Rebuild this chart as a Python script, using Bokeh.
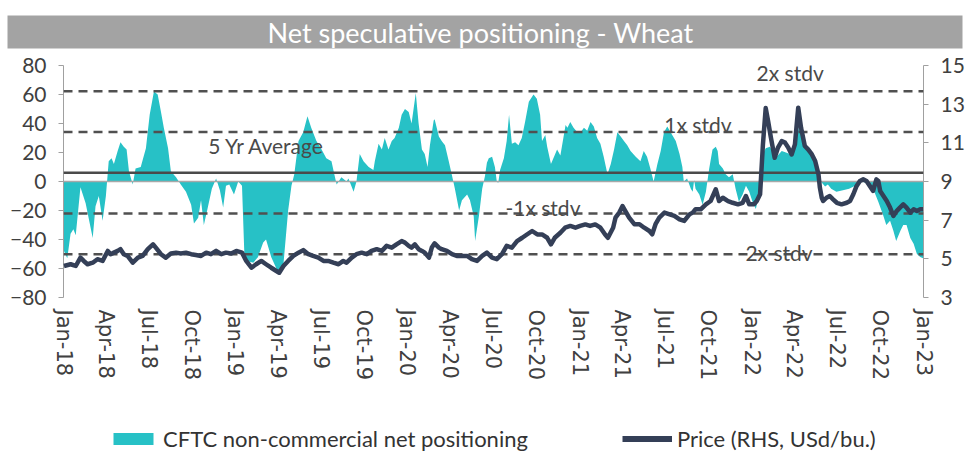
import pandas as pd
from bokeh.plotting import figure
from bokeh.models import Range1d, LinearAxis, FixedTicker, Span, Label, Legend, LegendItem, DatetimeTickFormatter
from bokeh.layouts import column
from bokeh.embed import file_html
from bokeh.resources import INLINE
from bokeh.core.properties import value

title_text = "Net speculative positioning  -  Wheat"
legend_labels = ["CFTC non-commercial net positioning", "Price (RHS, USd/bu.)"]

net_dates = [
    "2018-01-02", "2018-01-09", "2018-01-16", "2018-01-22", "2018-01-27", "2018-02-06", "2018-02-17", "2018-03-04",
    "2018-03-10", "2018-03-17", "2018-03-25", "2018-04-01", "2018-04-07", "2018-04-13", "2018-04-18", "2018-04-26",
    "2018-05-02", "2018-05-09", "2018-05-15", "2018-05-20", "2018-05-28", "2018-06-03", "2018-06-14", "2018-06-25",
    "2018-07-03", "2018-07-12", "2018-07-20", "2018-07-27", "2018-08-02", "2018-08-11", "2018-08-17", "2018-08-28",
    "2018-09-07", "2018-09-18", "2018-09-29", "2018-10-05", "2018-10-14", "2018-10-20", "2018-10-26", "2018-11-02",
    "2018-11-12", "2018-11-21", "2018-11-29", "2018-12-06", "2018-12-12", "2018-12-19", "2018-12-29",
    "2019-01-07", "2019-01-15", "2019-01-20", "2019-01-28", "2019-02-08", "2019-02-18", "2019-03-01", "2019-03-07",
    "2019-03-18", "2019-03-29", "2019-04-04", "2019-04-13", "2019-04-23", "2019-04-30", "2019-05-06", "2019-05-15",
    "2019-05-25", "2019-06-03", "2019-06-11", "2019-06-22", "2019-07-03", "2019-07-13", "2019-07-24", "2019-07-30",
    "2019-08-04", "2019-08-14", "2019-08-25", "2019-08-29", "2019-09-09", "2019-09-15", "2019-09-22", "2019-09-30",
    "2019-10-11", "2019-10-21", "2019-10-24", "2019-11-01", "2019-11-08", "2019-11-14", "2019-11-22", "2019-11-29",
    "2019-12-05", "2019-12-14", "2019-12-20", "2019-12-27",
    "2020-01-04", "2020-01-10", "2020-01-19", "2020-01-25", "2020-02-01", "2020-02-07", "2020-02-13", "2020-02-18",
    "2020-02-26", "2020-02-28", "2020-03-08", "2020-03-14", "2020-03-21", "2020-03-29", "2020-04-05", "2020-04-11",
    "2020-04-20", "2020-04-26", "2020-05-07", "2020-05-13", "2020-05-21", "2020-05-24", "2020-06-01", "2020-06-08",
    "2020-06-14", "2020-06-18", "2020-06-22", "2020-06-29", "2020-07-05", "2020-07-09", "2020-07-12", "2020-07-16",
    "2020-07-24", "2020-07-30", "2020-08-04", "2020-08-10", "2020-08-17", "2020-08-24", "2020-08-31", "2020-09-07",
    "2020-09-15", "2020-09-25", "2020-10-02", "2020-10-09", "2020-10-13", "2020-10-20", "2020-10-24", "2020-11-01",
    "2020-11-10", "2020-11-14", "2020-11-21", "2020-12-02", "2020-12-06", "2020-12-12", "2020-12-19", "2020-12-27",
    "2021-01-03", "2021-01-10", "2021-01-17", "2021-01-24", "2021-01-31", "2021-02-07", "2021-02-14", "2021-02-21",
    "2021-03-01", "2021-03-08", "2021-03-15", "2021-03-22", "2021-03-29", "2021-04-05", "2021-04-12", "2021-04-19",
    "2021-04-30", "2021-05-10", "2021-05-17", "2021-05-24", "2021-05-31", "2021-06-07", "2021-06-15", "2021-06-22",
    "2021-06-29", "2021-07-06", "2021-07-13", "2021-07-24", "2021-08-01", "2021-08-07", "2021-08-10", "2021-08-17",
    "2021-08-25", "2021-08-29", "2021-09-01", "2021-09-04", "2021-09-12", "2021-09-19", "2021-09-26", "2021-10-03",
    "2021-10-10", "2021-10-17", "2021-10-21", "2021-10-24", "2021-11-01", "2021-11-07", "2021-11-14", "2021-11-22",
    "2021-11-28", "2021-12-05", "2021-12-13", "2021-12-20", "2021-12-27",
    "2022-01-03", "2022-01-10", "2022-01-17", "2022-01-25", "2022-01-31", "2022-02-09", "2022-02-17", "2022-02-23",
    "2022-03-06", "2022-03-15", "2022-03-23", "2022-04-03", "2022-04-11", "2022-04-20", "2022-04-26", "2022-05-07",
    "2022-05-15", "2022-05-22", "2022-05-28", "2022-06-06", "2022-06-12", "2022-06-19", "2022-06-30", "2022-07-14",
    "2022-07-27", "2022-08-09", "2022-08-23", "2022-09-01", "2022-09-16", "2022-09-27", "2022-10-07", "2022-10-14",
    "2022-10-22", "2022-10-29", "2022-11-04", "2022-11-13", "2022-11-19", "2022-11-26", "2022-12-04", "2022-12-11",
    "2022-12-18", "2022-12-25", "2022-12-31",
]
net_values = [
    -48, -53, -36, -33, -37, -4, -15, -39,
    -17, -10, -27, -10, 14, 16, 12, 21,
    27, 24, 22, 7, -2, 9, 10, 23,
    46, 62, 60, 48, 37, 23, 7, 3,
    -2, -7, -16, -29, -25, -13, -30, -20,
    -5, 2, -6, -18, -3, -2, -9,
    0, -3, -50, -55, -56, -52, -42, -40,
    -52, -60, -64, -57, -20, -3, 5, 28,
    34, 45, 37, 28, 22, 16, 14, 5,
    -2, 3, 0, 2, -7, 0, 19, 14,
    10, 8, 14, 26, 22, 30, 22, 28,
    30, 37, 46, 50,
    48, 40, 61, 40, 22, 19, 10, 25,
    42, 43, 31, 28, 25, 14, 4, -5,
    -20, -13, -9, -13, -24, -41, -24, -5,
    4, 13, 16, 17, 10, 0, -1, 8,
    16, 28, 46, 26, 27, 25, 30, 41,
    55, 60, 57, 46, 28, 32, 24, 12,
    19, 22, 18, 39, 37, 41, 37, 34,
    34, 37, 35, 41, 38, 30, 26, 17,
    5, 12, 22, 34, 31, 28, 25, 21,
    17, 14, 21, 17, 9, 0, 12, 21,
    34, 38, 34, 28, 19, 10, 0, 2,
    -5, -7, 1, -5, -9, -16, -7, 9,
    22, 24, 21, 12, 9, 5, 3, 5,
    -5, -14, -9, -3, -7,
    -14, -19, -9, 19, 23, 24, 19, 17,
    21, 20, 19, 23, 37, 30, 25, 20,
    13, 4, 0, -3.5, -2, -5, -7, -6,
    -5, -3, 0, -1, -5, -14, -23, -30,
    -27, -34, -41, -34, -30, -30, -39, -43,
    -50, -52, -53,
]

price_dates = [
    "2018-01-02", "2018-01-16", "2018-01-27", "2018-02-06", "2018-02-13", "2018-02-21", "2018-03-04", "2018-03-14",
    "2018-03-25", "2018-04-05", "2018-04-11", "2018-04-18", "2018-04-26", "2018-05-02", "2018-05-09", "2018-05-17",
    "2018-05-28", "2018-06-08", "2018-06-18", "2018-06-29", "2018-07-10", "2018-07-16", "2018-07-27", "2018-08-06",
    "2018-08-17", "2018-08-28", "2018-09-07", "2018-09-18", "2018-09-29", "2018-10-09", "2018-10-20", "2018-10-31",
    "2018-11-10", "2018-11-21", "2018-12-02", "2018-12-12", "2018-12-23",
    "2019-01-03", "2019-01-15", "2019-01-24", "2019-02-04", "2019-02-14", "2019-02-25", "2019-03-07", "2019-03-18",
    "2019-03-29", "2019-04-04", "2019-04-13", "2019-04-23", "2019-05-04", "2019-05-15", "2019-05-25", "2019-06-05",
    "2019-06-15", "2019-06-26", "2019-07-07", "2019-07-17", "2019-07-28", "2019-08-08", "2019-08-18", "2019-08-25",
    "2019-09-05", "2019-09-15", "2019-09-26", "2019-10-07", "2019-10-17", "2019-10-28", "2019-11-08", "2019-11-18",
    "2019-11-29", "2019-12-09", "2019-12-20", "2019-12-27",
    "2020-01-04", "2020-01-10", "2020-01-17", "2020-01-25", "2020-02-01", "2020-02-07", "2020-02-16", "2020-02-22",
    "2020-02-28", "2020-03-08", "2020-03-14", "2020-03-25", "2020-04-05", "2020-04-15", "2020-04-26", "2020-05-07",
    "2020-05-17", "2020-05-28", "2020-06-08", "2020-06-18", "2020-06-29", "2020-07-09", "2020-07-20", "2020-07-30",
    "2020-08-10", "2020-08-21", "2020-09-01", "2020-09-11", "2020-09-22", "2020-10-03", "2020-10-13", "2020-10-24",
    "2020-11-01", "2020-11-09", "2020-11-21", "2020-12-01", "2020-12-12", "2020-12-23",
    "2021-01-02", "2021-01-13", "2021-01-23", "2021-02-03", "2021-02-14", "2021-02-24", "2021-03-02", "2021-03-13",
    "2021-03-18", "2021-03-26", "2021-04-02", "2021-04-08", "2021-04-16", "2021-04-27", "2021-05-08", "2021-05-18",
    "2021-05-29", "2021-06-04", "2021-06-11", "2021-06-19", "2021-06-30", "2021-07-11", "2021-07-21", "2021-08-01",
    "2021-08-11", "2021-08-22", "2021-08-29", "2021-09-04", "2021-09-15", "2021-09-26", "2021-10-06", "2021-10-17",
    "2021-10-24", "2021-11-01", "2021-11-12", "2021-11-22", "2021-12-03", "2021-12-13", "2021-12-20", "2021-12-27",
    "2022-01-06", "2022-01-12", "2022-01-19", "2022-01-25", "2022-01-31", "2022-02-05", "2022-02-11", "2022-02-19",
    "2022-02-26", "2022-03-06", "2022-03-13", "2022-03-20", "2022-03-27", "2022-04-03", "2022-04-10", "2022-04-16",
    "2022-04-24", "2022-05-01", "2022-05-09", "2022-05-16", "2022-05-23", "2022-05-26", "2022-05-30", "2022-06-02",
    "2022-06-09", "2022-06-16", "2022-06-23", "2022-07-01", "2022-07-11", "2022-07-22", "2022-07-29", "2022-08-05",
    "2022-08-12", "2022-08-19", "2022-08-26", "2022-09-02", "2022-09-09", "2022-09-16", "2022-09-23", "2022-09-27",
    "2022-10-01", "2022-10-08", "2022-10-15", "2022-10-22", "2022-10-29", "2022-11-05", "2022-11-12", "2022-11-19",
    "2022-11-26", "2022-12-04", "2022-12-11", "2022-12-18", "2022-12-25", "2022-12-31",
]
price_values = [
    4.63, 4.72, 4.63, 5.06, 4.89, 4.72, 4.80, 4.98,
    4.89, 5.41, 5.24, 5.32, 5.41, 5.50, 5.24, 5.15,
    4.80, 5.06, 5.15, 5.50, 5.75, 5.58, 5.24, 5.06,
    5.28, 5.32, 5.28, 5.32, 5.24, 5.20, 5.15, 5.32,
    5.24, 5.41, 5.24, 5.32, 5.28,
    5.41, 5.32, 4.89, 4.54, 4.72, 4.89, 4.72, 4.54,
    4.37, 4.28, 4.63, 4.89, 5.15, 5.32, 5.45, 5.24,
    5.15, 5.06, 4.89, 4.89, 4.80, 4.72, 4.89, 4.80,
    5.06, 5.24, 5.32, 5.24, 5.41, 5.50, 5.41, 5.67,
    5.58, 5.75, 5.92, 5.84,
    5.67, 5.58, 5.75, 5.50, 5.41, 5.32, 5.06, 5.58,
    5.80, 5.58, 5.50, 5.41, 5.24, 5.15, 5.15, 5.15,
    4.98, 4.89, 5.15, 5.32, 5.06, 4.98, 5.24, 5.67,
    5.58, 5.92, 6.09, 6.26, 6.44, 6.26, 6.26, 6.09,
    5.75, 6.09, 6.35, 6.61, 6.70, 6.61,
    6.70, 6.78, 6.70, 6.78, 6.61, 6.26, 6.09, 6.61,
    7.13, 7.39, 7.73, 7.47, 7.13, 6.79, 6.79, 6.61,
    6.44, 6.27, 6.79, 7.13, 7.39, 7.30, 7.22, 7.04,
    6.96, 7.30, 7.39, 7.56, 7.56, 7.82, 7.99, 8.60,
    7.99, 8.16, 7.99, 7.90, 7.82, 7.90, 8.25, 7.82,
    7.82, 7.99, 8.34, 10.90, 12.80, 12.13, 11.27, 10.23,
    10.75, 11.09, 11.01, 10.75, 10.40, 10.92, 12.82, 11.78,
    10.84, 10.66, 10.40, 10.06, 9.37, 8.68, 8.16, 7.99,
    8.16, 8.25, 8.08, 7.90, 7.82, 7.90, 7.99, 8.34,
    8.77, 9.03, 9.11, 9.03, 8.77, 8.51, 9.11, 9.03,
    8.51, 8.25, 7.99, 7.65, 7.22, 7.47, 7.65, 7.82,
    7.65, 7.39, 7.56, 7.47, 7.56, 7.56,
]

avg_5yr = 6.0
std_5yr = 28.1

tick_dates = [
    "2018-01-01", "2018-04-01", "2018-07-01", "2018-10-01", "2019-01-01", "2019-04-01", "2019-07-01",
    "2019-10-01", "2020-01-01", "2020-04-01", "2020-07-01", "2020-10-01", "2021-01-01", "2021-04-01",
    "2021-07-01", "2021-10-01", "2022-01-01", "2022-04-01", "2022-07-01", "2022-10-01", "2023-01-01",
]
tick_labels = [
    "Jan-18", "Apr-18", "Jul-18", "Oct-18", "Jan-19", "Apr-19", "Jul-19", "Oct-19", "Jan-20", "Apr-20",
    "Jul-20", "Oct-20", "Jan-21", "Apr-21", "Jul-21", "Oct-21", "Jan-22", "Apr-22", "Jul-22", "Oct-22", "Jan-23",
]
left_ticks = [-80, -60, -40, -20, 0, 20, 40, 60, 80]
right_ticks = [3, 5, 7, 9, 11, 13, 15]

TEAL = "#27C1C6"
NAVY = "#343F57"
TXT = "#404040"
FONT = "Lato"

net_x = pd.to_datetime(net_dates)
price_x = pd.to_datetime(price_dates)
tick_x = pd.to_datetime(tick_dates)
tick_ms = [float(t.value // 10**6) for t in tick_x]

# ---------- title bar ----------
t = figure(width=968, height=52, x_range=Range1d(0, 968), y_range=Range1d(0, 52),
           x_axis_location=None, y_axis_location=None, output_backend="svg",
           toolbar_location=None, min_border=0)
t.frame_align = False
t.grid.visible = False
t.outline_line_color = None
t.quad(left=7, right=962, bottom=4, top=37, fill_color="#A3A3A3", line_color=None)
t.text(x=[487], y=[20.5], text=[title_text], text_align="center", text_baseline="middle",
       text_color="white", text_font=value(FONT), text_font_size="27px")

# ---------- main chart ----------
p = figure(width=968, height=363, x_axis_type="datetime",
           x_range=Range1d(tick_x[0], tick_x[-1]), y_range=Range1d(-80, 80),
           output_backend="svg", toolbar_location=None,
           min_border_left=63, min_border_right=45, min_border_top=13, min_border_bottom=118)
p.grid.visible = False
p.outline_line_color = None
p.extra_y_ranges = {"price": Range1d(right_ticks[0], right_ticks[-1])}

area_r = p.varea(x=net_x, y1=0, y2=net_values, fill_color=TEAL)

p.add_layout(Span(location=0, dimension="width", line_color="#A8A8A8", line_width=1.5))
p.add_layout(Span(location=avg_5yr, dimension="width", line_color="#4A4A4A", line_width=2.5))
for k in (-2, -1, 1, 2):
    p.add_layout(Span(location=avg_5yr + k * std_5yr, dimension="width", line_color="#505050",
                      line_width=2.5, line_dash="9 6"))

price_r = p.line(x=price_x, y=price_values, y_range_name="price", line_color=NAVY,
                 line_width=4.5, line_join="round", level="overlay")

ann = [
    ("2x stdv", "2022-03-24", avg_5yr + 2 * std_5yr + 12.8),
    ("1x stdv", "2021-09-09", avg_5yr + 1 * std_5yr + 5.5),
    ("5 Yr Average", "2019-03-08", avg_5yr + 19),
    ("-1x stdv", "2020-10-15", avg_5yr - 1 * std_5yr + 4),
    ("-2x stdv", "2022-02-20", avg_5yr - 2 * std_5yr + 1),
]
for txt, d, yv in ann:
    p.add_layout(Label(x=pd.Timestamp(d), y=yv, text=txt, text_align="center", text_baseline="middle",
                       text_color="#4A4A4A", text_font=FONT, text_font_size="21px", level="overlay"))

# axes
xa = p.xaxis[0]
xa.ticker = FixedTicker(ticks=tick_ms)
xa.formatter = DatetimeTickFormatter(days="%b-%y", months="%b-%y", years="%b-%y")
xa.major_label_overrides = {ms: lab for ms, lab in zip(tick_ms, tick_labels)}
xa.major_label_orientation = "vertical"
xa.axis_line_color = None
xa.major_tick_line_color = None
xa.minor_tick_line_color = None
xa.major_label_text_font = "DejaVu Sans"
xa.major_label_text_font_size = "21px"
xa.major_label_text_color = "#404040"
xa.major_label_standoff = 6

ya = p.yaxis[0]
ya.ticker = FixedTicker(ticks=left_ticks)
ya.axis_line_color = "#A0A0A0"
ya.major_tick_line_color = "#A0A0A0"
ya.major_tick_out = 5
ya.major_tick_in = 0
ya.minor_tick_line_color = None
ya.major_label_text_font = FONT
ya.major_label_text_font_size = "21px"
ya.major_label_text_color = TXT
ya.major_label_standoff = 12

ra = LinearAxis(y_range_name="price", ticker=FixedTicker(ticks=right_ticks))
ra.axis_line_color = "#A0A0A0"
ra.major_tick_line_color = "#A0A0A0"
ra.major_tick_out = 5
ra.major_tick_in = 0
ra.minor_tick_line_color = None
ra.major_label_text_font = FONT
ra.major_label_text_font_size = "21px"
ra.major_label_text_color = TXT
ra.major_label_standoff = 12
p.add_layout(ra, "right")

# ---------- legend strip (proxy glyphs kept outside the visible range) ----------
lg = figure(width=968, height=48, x_range=Range1d(0, 968), y_range=Range1d(0, 48),
            x_axis_location=None, y_axis_location=None, output_backend="svg",
            toolbar_location=None, min_border=0)
lg.frame_align = False
lg.grid.visible = False
lg.outline_line_color = None
lg_area = lg.varea(x=[-60, -50], y1=[-60, -60], y2=[-50, -50], fill_color=TEAL)
lg_line = lg.line(x=[-60, -50], y=[-60, -60], line_color=NAVY, line_width=6)
legend = Legend(items=[LegendItem(label=legend_labels[0], renderers=[lg_area]),
                       LegendItem(label=legend_labels[1], renderers=[lg_line])],
                location=(108, 11), orientation="horizontal", glyph_width=50, glyph_height=15,
                spacing=94, label_standoff=5, padding=0, margin=0, border_line_color=None,
                background_fill_alpha=0, label_text_font=FONT, label_text_font_size="22px",
                label_text_color="#333333")
lg.add_layout(legend)

layout = column(t, p, lg)
open("out.html", "w").write(file_html(layout, INLINE))
